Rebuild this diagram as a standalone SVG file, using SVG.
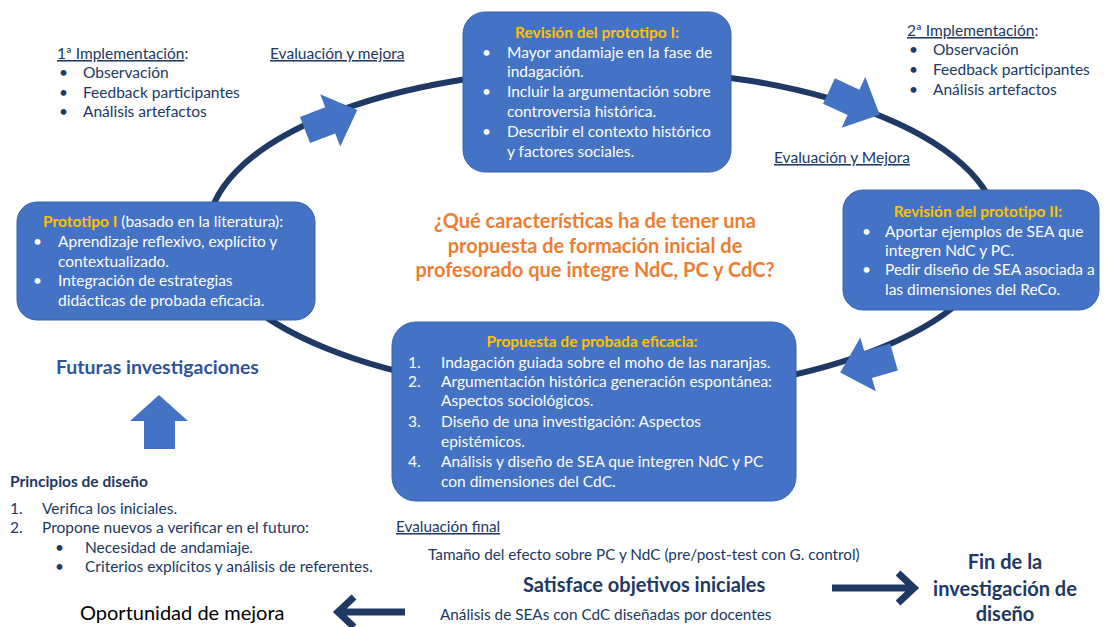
<svg xmlns="http://www.w3.org/2000/svg" width="1105" height="627" viewBox="0 0 1105 627">
<style>
text{font-family:Lato,"Liberation Sans",sans-serif}
.box{fill:#4472C4;stroke:#3A63AE;stroke-width:1}
.bt{fill:#FFFFFF;font-size:15.5px}
.gold{fill:#FFC000;font-weight:bold}
.nv{fill:#203864;font-size:15.5px}
.u{text-decoration:underline}
.q{fill:#ED7D31;font-size:20px;font-weight:bold}
.blk{fill:#4472C4}
.thk{fill:none;stroke:#203864;stroke-width:7}
.sm{font-size:15.3px}
.big{font-size:20px;font-weight:bold}
</style>
<defs>
<path id="barrow" d="M0,-14 L27,-14 L27,-28 L56,0 L27,28 L27,14 L0,14 Z"/>
</defs>
<rect width="1105" height="627" fill="#FFFFFF"/>
<g id="connectors">
<ellipse cx="603" cy="232" rx="395" ry="163" fill="none" stroke="#1F3864" stroke-width="6"/>
<use href="#barrow" class="blk" transform="translate(305,130) rotate(-21)"/>
<use href="#barrow" class="blk" transform="translate(829,91) rotate(25)"/>
<use href="#barrow" class="blk" transform="translate(894,357) rotate(164)"/>
<polygon class="blk" points="159,395 188,421 175,421 175,449 144,449 144,421 130,421"/>
<path class="thk" d="M832,588 H914 M898,573 L914,588 L898,603"/>
<path class="thk" d="M405,612 H338 M354,597 L338,612 L354,627"/>
</g>
<g id="node-revision1">
<rect class="box" x="463" y="12" width="268" height="160" rx="22"/>
<text class="gold" x="597" y="38" text-anchor="middle" style="font-size:15.5px">Revisión del prototipo I:</text>
<g class="bt">
<text x="482" y="58">•</text><text x="507" y="58">Mayor andamiaje en la fase de</text>
<text x="507" y="77">indagación.</text>
<text x="482" y="97">•</text><text x="507" y="97">Incluir la argumentación sobre</text>
<text x="507" y="117">controversia histórica.</text>
<text x="482" y="137">•</text><text x="507" y="137">Describir el contexto histórico</text>
<text x="507" y="157">y factores sociales.</text>
</g>
</g>
<g id="node-prototipo1">
<rect class="box" x="17" y="202" width="298" height="118" rx="20"/>
<text class="bt" x="43" y="227"><tspan class="gold">Prototipo I</tspan> (basado en la literatura):</text>
<g class="bt">
<text x="33" y="247">•</text><text x="58" y="247">Aprendizaje reflexivo, explícito y</text>
<text x="58" y="267">contextualizado.</text>
<text x="33" y="286">•</text><text x="58" y="286">Integración de estrategias</text>
<text x="58" y="306">didácticas de probada eficacia.</text>
</g>
</g>
<g id="node-revision2">
<rect class="box" x="843" y="190" width="256" height="120" rx="20"/>
<text class="gold" x="978" y="217" text-anchor="middle" style="font-size:15.5px">Revisión del prototipo II:</text>
<g class="bt">
<text x="862" y="237">•</text><text x="885" y="237">Aportar ejemplos de SEA que</text>
<text x="885" y="256">integren NdC y PC.</text>
<text x="862" y="275">•</text><text x="885" y="275">Pedir diseño de SEA asociada a</text>
<text x="885" y="295">las dimensiones del ReCo.</text>
</g>
</g>
<g id="node-propuesta">
<rect class="box" x="392" y="322" width="404" height="179" rx="24"/>
<text class="gold" x="592" y="347" text-anchor="middle" style="font-size:15.5px">Propuesta de probada eficacia:</text>
<g class="bt">
<text x="408" y="368">1.</text><text x="441" y="368">Indagación guiada sobre el moho de las naranjas.</text>
<text x="408" y="387">2.</text><text x="441" y="387">Argumentación histórica generación espontánea:</text>
<text x="441" y="406">Aspectos sociológicos.</text>
<text x="408" y="427">3.</text><text x="441" y="427">Diseño de una investigación: Aspectos</text>
<text x="441" y="447">epistémicos.</text>
<text x="408" y="467">4.</text><text x="441" y="467">Análisis y diseño de SEA que integren NdC y PC</text>
<text x="441" y="487">con dimensiones del CdC.</text>
</g>
</g>
<g id="node-question">
<text class="q" x="595" y="228" text-anchor="middle">¿Qué características ha de tener una</text>
<text class="q" x="595" y="253" text-anchor="middle">propuesta de formación inicial de</text>
<text class="q" x="595" y="277" text-anchor="middle">profesorado que integre NdC, PC y CdC?</text>
</g>
<g id="node-impl1">
<text class="nv" x="57" y="59"><tspan class="u">1ª Implementación</tspan>:</text>
<text class="nv" x="59" y="78">•</text><text class="nv" x="83" y="78">Observación</text>
<text class="nv" x="59" y="98">•</text><text class="nv" x="83" y="98">Feedback participantes</text>
<text class="nv" x="59" y="117">•</text><text class="nv" x="83" y="117">Análisis artefactos</text>
</g>
<g id="node-eval1">
<text class="nv u" x="270" y="59">Evaluación y mejora</text>
</g>
<g id="node-impl2">
<text class="nv" x="907" y="36"><tspan class="u">2ª Implementación</tspan>:</text>
<text class="nv" x="909" y="55">•</text><text class="nv" x="933" y="55">Observación</text>
<text class="nv" x="909" y="75">•</text><text class="nv" x="933" y="75">Feedback participantes</text>
<text class="nv" x="909" y="95">•</text><text class="nv" x="933" y="95">Análisis artefactos</text>
</g>
<g id="node-eval2">
<text class="nv u" x="774" y="163">Evaluación y Mejora</text>
</g>
<g id="node-futuras">
<text x="56" y="374" fill="#2F5597" style="font-size:19.5px;font-weight:bold">Futuras investigaciones</text>
</g>
<g id="node-principios">
<text class="nv" x="10" y="487" style="font-weight:bold">Principios de diseño</text>
<text class="nv" x="10" y="514">1.</text><text class="nv" x="42" y="514">Verifica los iniciales.</text>
<text class="nv" x="10" y="533">2.</text><text class="nv" x="42" y="533">Propone nuevos a verificar en el futuro:</text>
<text class="nv" x="55" y="553">•</text><text class="nv" x="85" y="553">Necesidad de andamiaje.</text>
<text class="nv" x="55" y="572">•</text><text class="nv" x="85" y="572">Criterios explícitos y análisis de referentes.</text>
</g>
<g id="node-oportunidad">
<text x="80" y="620" fill="#000000" style="font-size:20px">Oportunidad de mejora</text>
</g>
<g id="node-evalfinal">
<text class="nv u sm" x="396" y="532">Evaluación final</text>
<text class="nv sm" x="428" y="560">Tamaño del efecto sobre PC y NdC (pre/post-test con G. control)</text>
<text class="nv big" x="523" y="592">Satisface objetivos iniciales</text>
<text class="nv sm" x="440" y="620">Análisis de SEAs con CdC diseñadas por docentes</text>
</g>
<g id="node-fin">
<text class="nv big" x="1005" y="569" text-anchor="middle">Fin de la</text>
<text class="nv big" x="1005" y="596" text-anchor="middle">investigación de</text>
<text class="nv big" x="1005" y="621" text-anchor="middle">diseño</text>
</g>
</svg>
